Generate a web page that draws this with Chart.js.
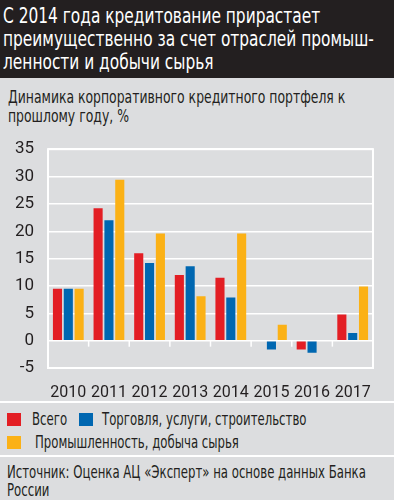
<!DOCTYPE html>
<html>
<head>
<meta charset="utf-8">
<script src="https://cdn.jsdelivr.net/npm/chart.js@4"></script>
<style>
  body { margin: 0; width: 394px; height: 500px; background: #dcdddf; overflow: hidden;
         font-family: "DejaVu Sans", sans-serif; color: #231f20; position: relative; }
  .sempit { display: inline-block; white-space: nowrap; transform: scaleX(0.69); transform-origin: 0 0; }
  #judul { position: absolute; left: 0; top: 0; width: 394px; height: 78px; background: #231f20; color: #fff;
           font-size: 22px; line-height: 23px; padding: 4px 0 0 3px; box-sizing: border-box; }
  #judul .sempit { transform: scaleX(0.7); }
  #subjudul { position: absolute; left: 8px; top: 87px; font-size: 18px; line-height: 19px; }
  #wadah { position: absolute; left: 0; top: 125px; width: 394px; height: 275px; }
  .garis { position: absolute; left: 0; width: 394px; height: 2px; background: #fff; }
  #legenda { position: absolute; left: 0; top: 408px; font-size: 17px; line-height: 23px; }
  #legenda .item { position: absolute; white-space: nowrap; }
  #legenda .kotak { position: absolute; top: 5px; width: 14px; height: 13px; }
  #legenda .teks { position: absolute; top: 0; }
  #sumber { position: absolute; left: 7px; top: 463px; font-size: 17px; line-height: 18px; }
</style>
</head>
<body>
<div id="judul"><span class="sempit">С 2014 года кредитование прирастает<br>преимущественно за счет отраслей промыш-<br>ленности и добычи сырья</span></div>
<div id="subjudul"><span class="sempit">Динамика корпоративного кредитного портфеля к<br>прошлому году, %</span></div>
<div id="wadah"><canvas id="grafik"></canvas></div>
<div class="garis" style="top:401px"></div>
<div id="legenda"></div>
<div class="garis" style="top:455px"></div>
<div id="sumber"><span class="sempit">Источник: Оценка АЦ «Эксперт» на основе данных Банка<br>России</span></div>
<script>
// Data grafik
const tahun = ['2010', '2011', '2012', '2013', '2014', '2015', '2016', '2017'];
const totalKredit = [9.5, 24.2, 16.0, 12.0, 11.5, 0, -1.6, 4.8];
const perdagangan = [9.5, 22.0, 14.2, 13.6, 7.9, -1.6, -2.2, 1.4];
const industri = [9.5, 29.4, 19.6, 8.1, 19.6, 2.9, 0, 9.9];
const namaSeri = ['Всего', 'Торговля, услуги, строительство', 'Промышленность, добыча сырья'];
const warnaSeri = ['#e31e24', '#0067b1', '#fbb116'];
const tickY = [-5, 0, 5, 10, 15, 20, 25, 30, 35];

const huruf = 'Roboto, "DejaVu Sans", sans-serif';

// Bingkai putih dan tanda kecil di garis nol
const bingkai = {
    id: 'bingkai',
    beforeDatasetsDraw(chart) {
        const ctx = chart.ctx;
        const area = chart.chartArea;
        const x = chart.scales.x;
        const y = chart.scales.y;
        ctx.save();
        ctx.strokeStyle = '#fff';
        ctx.lineWidth = 2;
        ctx.strokeRect(area.left, area.top, area.right - area.left, area.bottom - area.top);
        const y0 = y.getPixelForValue(0);
        ctx.lineWidth = 1.5;
        for (let i = 1; i < tahun.length; i++) {
            const xp = (x.getPixelForValue(i - 1) + x.getPixelForValue(i)) / 2;
            ctx.beginPath();
            ctx.moveTo(xp, y0);
            ctx.lineTo(xp, y0 + 6);
            ctx.stroke();
        }
        ctx.restore();
    }
};

const dataGrafik = {
    labels: tahun,
    datasets: [totalKredit, perdagangan, industri].map((d, i) => ({
        label: namaSeri[i],
        data: d,
        backgroundColor: warnaSeri[i],
        borderWidth: 0,
        categoryPercentage: 0.8,
        barPercentage: 0.84
    }))
};

const configGrafik = {
    type: 'bar',
    data: dataGrafik,
    options: {
        responsive: true,
        maintainAspectRatio: false,
        animation: false,
        layout: { padding: { top: 15, right: 21, bottom: 0, left: 0 } },
        plugins: {
            legend: { display: false },
            tooltip: { enabled: false }
        },
        scales: {
            x: {
                grid: { display: false },
                border: { display: false },
                ticks: { color: '#231f20', font: { family: huruf, size: 16 }, padding: 7, maxRotation: 0, autoSkip: false },
                afterFit: (s) => { s.height = 32; }
            },
            y: {
                min: -5,
                max: 35,
                afterBuildTicks: (s) => { s.ticks = tickY.map(v => ({ value: v })); },
                grid: { color: '#fff', lineWidth: 1.5, drawTicks: false },
                border: { display: false },
                ticks: { color: '#231f20', font: { family: huruf, size: 17 }, padding: 14 },
                afterFit: (s) => { s.width = 48; }
            }
        }
    },
    plugins: [bingkai]
};

var grafik = new Chart(document.getElementById('grafik'), configGrafik);

// Keterangan warna
const posisiLegenda = [[7, 32, 0], [79, 102, 0], [7, 35, 23]];
document.getElementById('legenda').innerHTML = namaSeri.map((n, i) =>
    '<div class="item" style="top:' + posisiLegenda[i][2] + 'px">' +
    '<span class="kotak" style="left:' + posisiLegenda[i][0] + 'px;background:' + warnaSeri[i] + '"></span>' +
    '<span class="teks sempit" style="left:' + posisiLegenda[i][1] + 'px">' + n + '</span></div>'
).join('');
</script>
</body>
</html>
